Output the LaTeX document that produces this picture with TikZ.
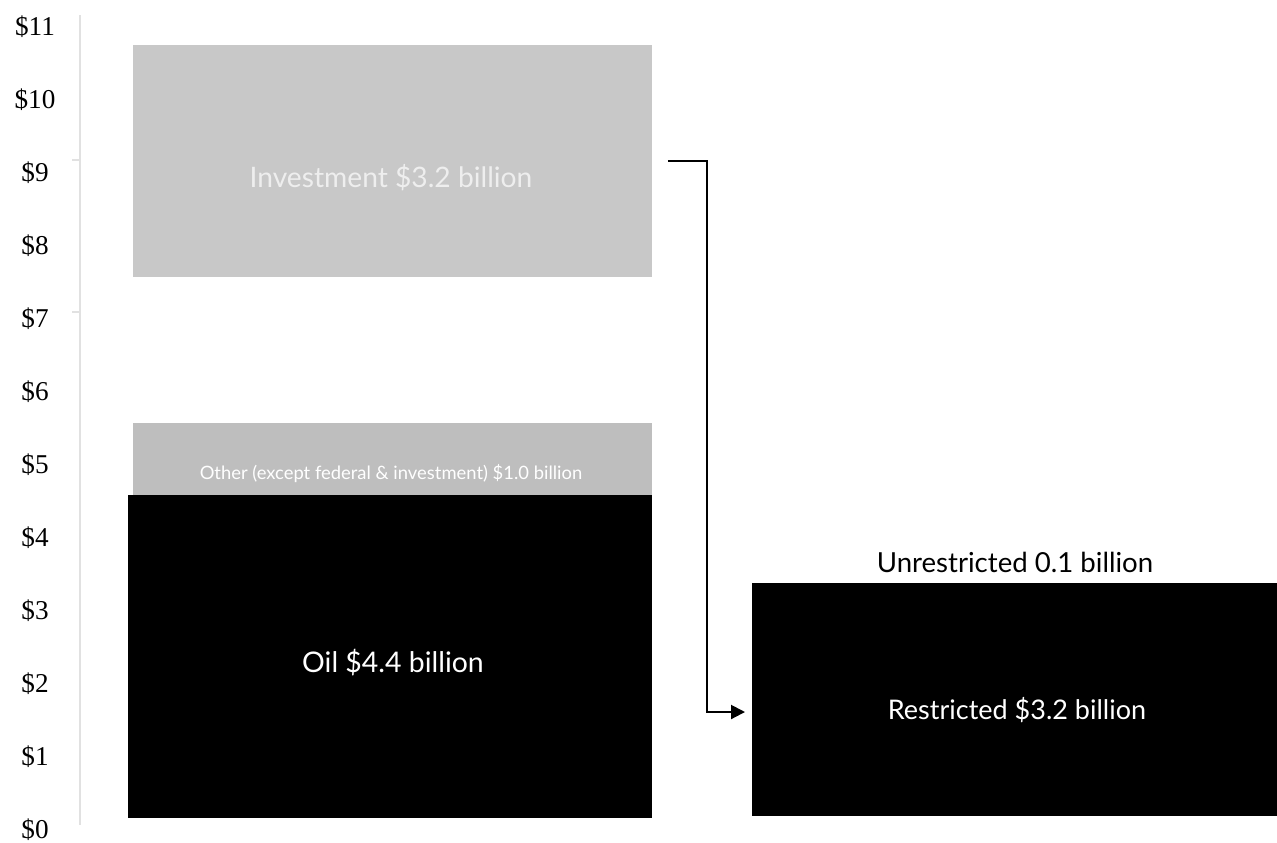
\documentclass[tikz,border=0pt]{standalone}
\usepackage{fontspec}
\setmainfont{Liberation Serif}
\newfontfamily\barfont{Lato}
\usetikzlibrary{arrows.meta,positioning}
\definecolor{invgray}{RGB}{200,200,200}
\definecolor{othgray}{RGB}{190,190,190}
\definecolor{invtext}{RGB}{238,238,238}
\definecolor{axisgray}{RGB}{225,225,225}
\begin{document}
\begin{tikzpicture}[x=0.5pt,y=-0.5pt]
                \tikzstyle{every node}+=[inner sep=0pt]
                \tikzstyle{bar}=[anchor=north west]
                \tikzstyle{barlabel}=[text=white,font=\barfont]
                \useasboundingbox (0,0) rectangle (1277,842);
                % axis
                \draw [axisgray,line width=0.6pt] (80,15) -- (80,825);
                \draw [axisgray,line width=0.6pt] (72,160) -- (80,160);
                \draw [axisgray,line width=0.6pt] (72,312) -- (80,312);
                \foreach \v in {0,...,11}
                    \node [font=\fontsize{13.6}{16}\selectfont] (tick\v) at (35,{830-73*\v}) {\$\v};
                % bars
                \node [bar,fill=invgray,minimum width=259.5pt,minimum height=116pt] (inv) at (133,45) {};
                \node [barlabel,text=invtext,font=\barfont\fontsize{14.1}{17}\selectfont] (invlab) at (391,178) {Investment \$3.2 billion};
                \node [bar,fill=othgray,minimum width=259.5pt,minimum height=36pt] (oth) at (133,423) {};
                \node [barlabel,font=\barfont\fontsize{9.2}{11}\selectfont] (othlab) at (391,474) {Other (except federal \& investment) \$1.0 billion};
                \node [bar,fill=black,minimum width=262pt,minimum height=161.5pt] (oil) at (128,495) {};
                \node [barlabel,font=\barfont\fontsize{14.2}{17}\selectfont] (oillab) at (393,663) {Oil \$4.4 billion};
                \node [bar,fill=black,minimum width=262.5pt,minimum height=116.5pt] (rest) at (752,583) {};
                \node [barlabel,font=\barfont\fontsize{13.5}{16}\selectfont] (restlab) at (1017,710) {Restricted \$3.2 billion};
                \node [font=\barfont\fontsize{13.8}{16}\selectfont] (unrest) at (1015,562) {Unrestricted 0.1 billion};
                % transfer arrow
                \coordinate (turn) at (707,712);
                \coordinate (tip) at (745,712);
                \draw [black,line width=1pt,-{Triangle[length=7pt,width=7pt]}] ([xshift=7.5pt]inv.east) -| (turn) -- (tip);
\end{tikzpicture}
\end{document}
